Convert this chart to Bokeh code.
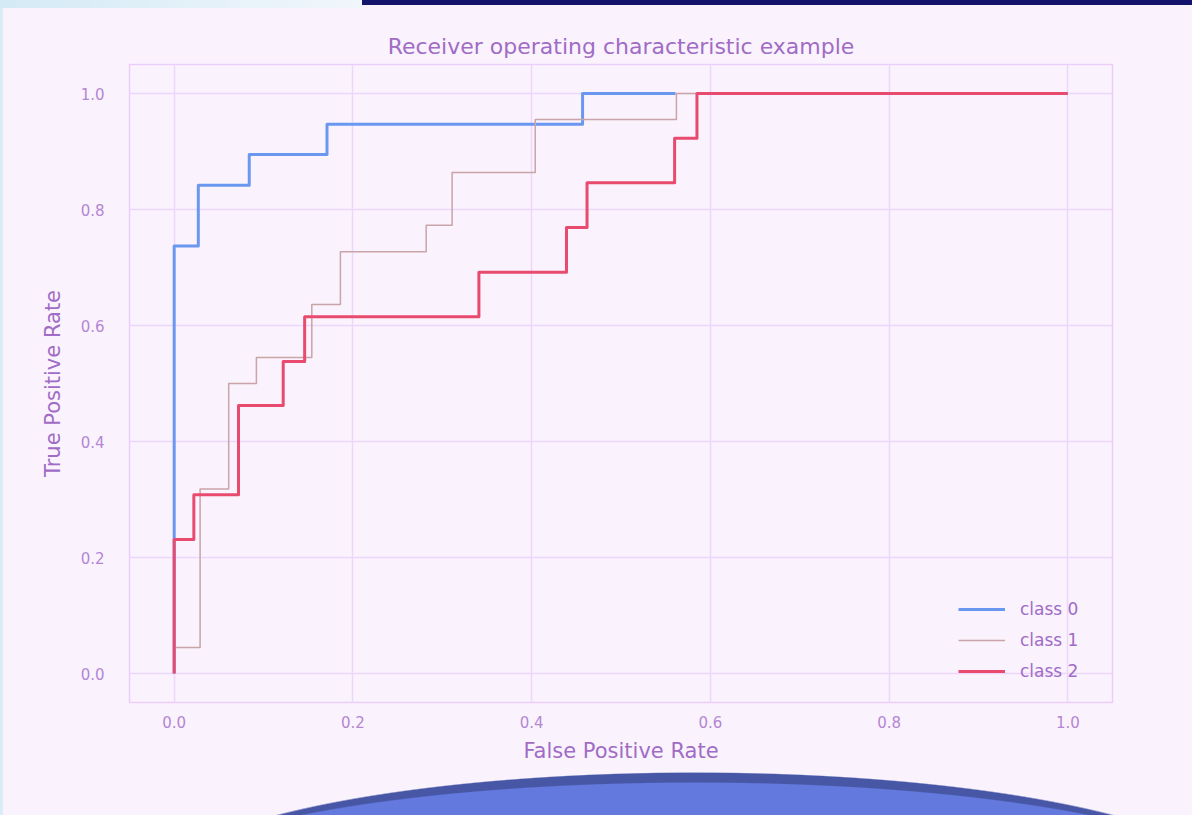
from bokeh.plotting import figure
from bokeh.models import FixedTicker, Range1d, Legend, LegendItem
from bokeh.embed import file_html
from bokeh.resources import INLINE

# ROC curve corner points (false positive rate, true positive rate) for each class
fpr_class0 = [0.0, 0.0, 0.027, 0.027, 0.084, 0.084, 0.171, 0.171, 0.457, 0.457, 0.561]
tpr_class0 = [0.0, 0.737, 0.737, 0.842, 0.842, 0.895, 0.895, 0.947, 0.947, 1.0, 1.0]

fpr_class1 = [0.0, 0.0, 0.029, 0.029, 0.061, 0.061, 0.092, 0.092, 0.154, 0.154, 0.186,
              0.186, 0.282, 0.282, 0.311, 0.311, 0.404, 0.404, 0.562, 0.562, 1.0]
tpr_class1 = [0.0, 0.045, 0.045, 0.318, 0.318, 0.5, 0.5, 0.545, 0.545, 0.636, 0.636,
              0.727, 0.727, 0.773, 0.773, 0.864, 0.864, 0.955, 0.955, 1.0, 1.0]

fpr_class2 = [0.0, 0.0, 0.022, 0.022, 0.072, 0.072, 0.122, 0.122, 0.146, 0.146, 0.341,
              0.341, 0.439, 0.439, 0.462, 0.462, 0.560, 0.560, 0.585, 0.585, 1.0]
tpr_class2 = [0.0, 0.231, 0.231, 0.308, 0.308, 0.462, 0.462, 0.538, 0.538, 0.615, 0.615,
              0.692, 0.692, 0.769, 0.769, 0.846, 0.846, 0.923, 0.923, 1.0, 1.0]

class_names = ["class 0", "class 1", "class 2"]
tick_values = [0.0, 0.2, 0.4, 0.6, 0.8, 1.0]
tick_labels = ["0.0", "0.2", "0.4", "0.6", "0.8", "1.0"]

FONT = "DejaVu Sans"
TEXT = "#a06cc5"
TICK_TEXT = "#b486d4"
GRID = "#eed5fb"
BG = "#faf3fd"

p = figure(
    width=1192, height=815,
    output_backend="svg", toolbar_location=None,
    x_range=Range1d(-0.05, 1.05), y_range=Range1d(-0.05, 1.05),
    min_border_left=129, min_border_right=80,
    min_border_top=64, min_border_bottom=113,
    title="Receiver operating characteristic example",
)

# page backdrop: base tint, top banner, bottom dome
p.border_fill_alpha = 0
p.background_fill_color = BG
p.styles = {
    "background": (
        "radial-gradient(ellipse 556px 110px at 695px 892px, #6479de 0%, #6479de 99%, rgba(100,121,222,0) 100%), "
        "radial-gradient(ellipse 549px 120px at 695px 892px, #4757a6 0%, #4757a6 99%, rgba(71,87,166,0) 100%), "
        "linear-gradient(#14146c, #14146c) 362px 0 / 830px 5px no-repeat, "
        "linear-gradient(90deg, #d3eaf5, #f1f6fc) 0 0 / 362px 8px no-repeat, "
        "linear-gradient(#d9edf7, #d9edf7) 0 0 / 3px 100% no-repeat, "
        + BG
    )
}

p.outline_line_color = "#ebcdf9"
p.outline_line_width = 1.5

p.title.text_font = FONT
p.title.text_font_size = "22px"
p.title.text_font_style = "normal"
p.title.text_color = TEXT
p.title.align = "center"
p.title.standoff = 11

for ax in (p.xaxis[0], p.yaxis[0]):
    ax.ticker = FixedTicker(ticks=tick_values)
    ax.major_label_overrides = dict(zip(tick_values, tick_labels))
    ax.axis_line_color = None
    ax.major_tick_line_color = None
    ax.minor_tick_line_color = None
    ax.major_tick_out = 0
    ax.major_label_text_font = FONT
    ax.major_label_text_font_size = "15px"
    ax.major_label_text_color = TICK_TEXT
    ax.axis_label_text_font = FONT
    ax.axis_label_text_font_size = "21px"
    ax.axis_label_text_font_style = "normal"
    ax.axis_label_text_color = TEXT

p.xaxis.axis_label = "False Positive Rate"
p.yaxis.axis_label = "True Positive Rate"
p.xaxis.major_label_standoff = 13
p.xaxis.axis_label_standoff = 8
p.yaxis.major_label_standoff = 25
p.yaxis.axis_label_standoff = 13

p.xgrid.ticker = FixedTicker(ticks=tick_values)
p.ygrid.ticker = FixedTicker(ticks=tick_values)
p.grid.grid_line_color = GRID
p.grid.grid_line_width = 1.5

r0 = p.line(fpr_class0, tpr_class0, line_color="#6a98f0", line_width=3, line_join="round")
r1 = p.line(fpr_class1, tpr_class1, line_color="#c9a4a8", line_width=1.5, line_join="round")
r2 = p.line(fpr_class2, tpr_class2, line_color="#e84b6d", line_width=3, line_join="round")

legend = Legend(
    items=[LegendItem(label=n, renderers=[r]) for n, r in zip(class_names, (r0, r1, r2))],
    location=(819, 11),
    margin=0, padding=10, spacing=11,
    glyph_width=47, glyph_height=20, label_height=20, label_standoff=15,
    label_text_font=FONT, label_text_font_size="17px", label_text_color=TEXT,
    background_fill_alpha=0, border_line_alpha=0,
)
p.add_layout(legend, "center")

open("out.html", "w").write(file_html(p, INLINE))
